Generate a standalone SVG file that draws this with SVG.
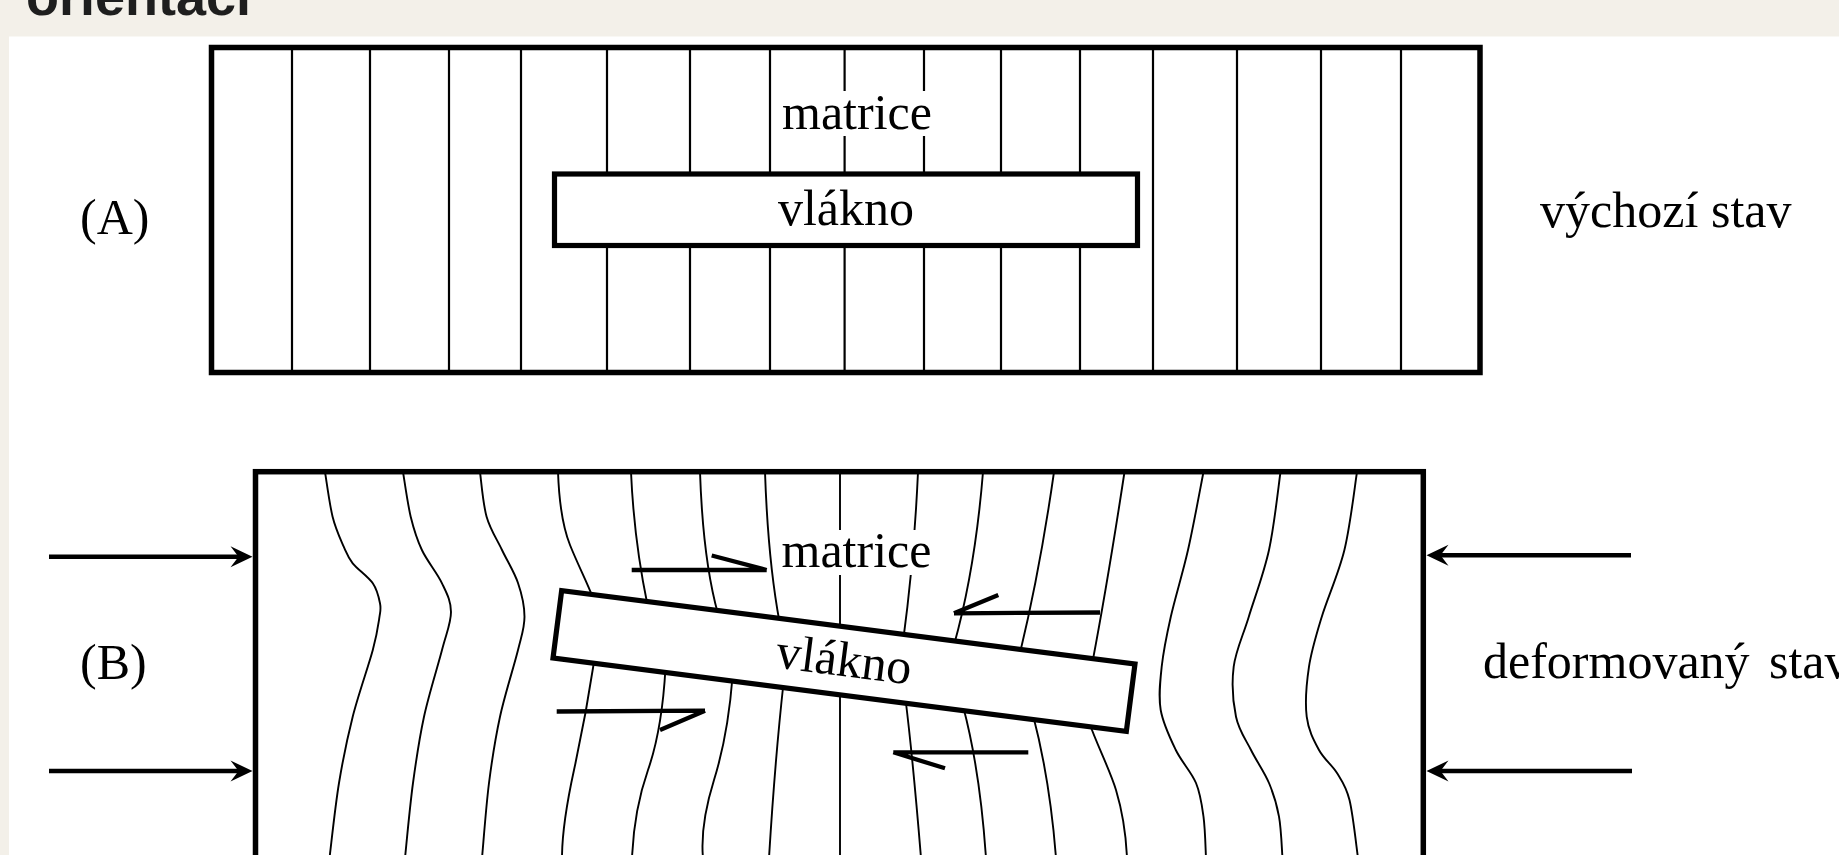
<svg xmlns="http://www.w3.org/2000/svg" width="1839" height="855" viewBox="0 0 1839 855">
<defs>
<style>
.bg{fill:#f3f0e9}
.panel{fill:#ffffff}
.frame{fill:none;stroke:#000;stroke-width:5.5}
.fiber{fill:#fff;stroke:#000;stroke-width:5.2}
.vl{stroke:#000;stroke-width:2.2;fill:none}
.wl{stroke:#000;stroke-width:1.9;fill:none}
.lbl{font-family:"Liberation Serif","Times New Roman",serif;font-size:50px;fill:#000}
.arr{stroke:#000;stroke-width:4.5;fill:none}
.shear{stroke:#000;stroke-width:4.3;fill:none;stroke-linecap:butt}
.title{font-family:"Liberation Sans",Arial,sans-serif;font-weight:bold;font-size:54px;fill:#1e1e1e}
.mask{fill:#fff}
</style>
<path id="head" d="M0,0 L-22,-10.5 L-14,0 L-22,10.5 Z" fill="#000"/>
</defs>

<rect class="bg" x="0" y="0" width="1839" height="855"/>
<text class="title" x="26" y="15">orientaci</text>
<rect class="panel" x="9" y="36.5" width="1830" height="818.5"/>

<g id="stateA">
  <path class="vl" d="M292,48V372 M370,48V372 M449,48V372 M521,48V372 M607,48V372 M690,48V372 M770,48V372 M844.6,48V372 M924,48V372 M1001,48V372 M1080,48V372 M1153,48V372 M1237,48V372 M1321,48V372 M1401,48V372"/>
  <rect class="frame" x="211.5" y="47.5" width="1268.5" height="325"/>
  <g id="fiberA">
    <rect class="fiber" x="554.5" y="174" width="583" height="71.5"/>
    <text class="lbl" x="846" y="225" text-anchor="middle">vlákno</text>
  </g>
  <g id="matrixA">
    <rect class="mask" x="779" y="91" width="158" height="45"/>
    <text class="lbl" x="782" y="129">matrice</text>
  </g>
  <text id="labelA" class="lbl" x="80" y="234">(A)</text>
  <text id="stateA-label" class="lbl" x="1540" y="227">výchozí<tspan x="1711">stav</tspan></text>
</g>

<g id="stateB">
  <g id="gridB">
    <path class="wl" d="M325,472 C326.3,479.5 329.5,504.2 332.6,516.7 C335.7,529.2 340.4,538.9 343.7,546.7 C347.1,554.5 347.9,557.2 352.7,563.3 C357.6,569.4 368.3,576.6 372.8,583.3 C377.4,590 378.9,597.7 380,603.3 C381.1,608.9 380.7,608.9 379.5,616.7 C378.3,624.5 377.3,633.3 372.8,650 C368.3,666.7 358.3,694.5 352.7,716.7 C347.1,738.9 342.9,759.4 339,783 C335.1,806.6 331.1,845.5 329.5,858"/>
    <path class="wl" d="M403,472 C404.3,479.5 407.6,503.7 410.7,516.7 C413.9,529.7 416.7,538.9 421.9,550 C427.1,561.1 437.2,573 442,583.3 C446.9,593.6 451,600.9 451,612 C451,623.1 446.5,632.6 442,650 C437.5,667.4 428.8,694.5 424,716.7 C419.2,738.9 416.2,759.5 413,783 C409.8,806.6 406.3,845.5 405,858"/>
    <path class="wl" d="M480,472 C481.1,479.5 482.9,503.7 486.6,516.7 C490.3,529.7 496.8,539 502,550 C507.2,561 514.3,571.9 518,583 C521.8,594.1 524.5,605.5 524.5,616.7 C524.5,627.9 522.1,633.3 518,650 C513.9,666.7 504.8,694.5 500,716.7 C495.2,738.9 492,759.5 489,783 C486,806.6 483.2,845.5 482,858"/>
    <path class="wl" d="M558,472 C559,500 562,525 570,545 C578,565 587,582 593,598 M594.5,659 Q586,715 574,770 T562,858"/>
    <path class="wl" d="M631,472 Q634,540 647.5,605 M665.5,668 Q662,730 648,770 T632,858"/>
    <path class="wl" d="M700,472 Q703,560 718,614 M732.5,677 Q728,735 714,780 T703,858"/>
    <path class="wl" d="M765,472 Q768,560 779.5,622 M783.5,683 Q775,760 769,858"/>
    <path class="wl" d="M840,472 V858"/>
    <path class="wl" d="M918,472 Q914,560 903.5,638 M905.5,699 Q913,760 921,858"/>
    <path class="wl" d="M983,472 Q975,570 954,645 M963,706 Q980,770 986,858"/>
    <path class="wl" d="M1054,472 Q1040,570 1020,653 M1033,715 Q1050,780 1056,858"/>
    <path class="wl" d="M1124.5,472 Q1108,580 1092.5,662 M1089,722 C1097,745 1110,770 1116,790 C1122,810 1126,835 1127,858"/>
    <path class="wl" d="M1203.5,472 C1200.9,485 1193.5,525.9 1188,550 C1182.5,574.1 1175.2,597.3 1170.8,616.7 C1166.4,636.2 1163.4,651.2 1161.7,666.7 C1160,682.3 1158.4,696.1 1160.7,710 C1163.1,723.9 1169.9,737.8 1175.8,750 C1181.7,762.2 1191.4,771.9 1196,783 C1200.6,794.1 1201.8,804.2 1203.5,816.7 C1205.2,829.2 1205.6,851.1 1206,858"/>
    <path class="wl" d="M1280.5,472 C1278.6,485 1274.3,525.9 1269,550 C1263.7,574.1 1254.7,597.3 1248.8,616.7 C1242.9,636.2 1235.8,650 1233.7,666.7 C1231.6,683.4 1233.1,702.8 1236,716.7 C1238.9,730.6 1245.5,739 1251,750 C1256.5,761.1 1264.3,771.9 1269,783 C1273.7,794.1 1276.8,804.2 1279,816.7 C1281.3,829.2 1281.9,851.1 1282.5,858"/>
    <path class="wl" d="M1357,472 C1354.9,485 1350.3,525.9 1344.4,550 C1338.5,574.1 1327.7,597.3 1321.8,616.7 C1315.9,636.2 1311.5,650 1309,666.7 C1306.5,683.4 1305,702.8 1306.7,716.7 C1308.4,730.6 1314,740.6 1319,750 C1324,759.4 1331.9,764.7 1337,773 C1342.1,781.3 1346,785.8 1349.5,800 C1353,814.2 1356.6,848.3 1358,858"/>
  </g>
  <rect class="frame" x="255.5" y="471.7" width="1167.8" height="500" stroke-width="6"/>
  <g id="fiberB">
    <rect class="fiber" x="-289" y="-34" width="578" height="68" transform="translate(844,661) rotate(7.3)"/>
    <text class="lbl" x="0" y="15" text-anchor="middle" transform="translate(844,661) rotate(7.3)">vlákno</text>
  </g>
  <g id="matrixB">
    <rect class="mask" x="779" y="530" width="156" height="45"/>
    <text class="lbl" x="781.5" y="566.5">matrice</text>
  </g>
  <g id="shear">
    <path class="shear" d="M631.7,570 H766.7 M766.7,570 L711.7,555.5"/>
    <path class="shear" d="M1100,612.5 L954,613.3 M954,613.3 L998.3,595"/>
    <path class="shear" d="M556.7,711.5 L705,710.7 M705,710.7 L660,730"/>
    <path class="shear" d="M1028.3,752.3 L893.3,752.3 M893.3,752.3 L945,768.3"/>
  </g>
  <text id="labelB" class="lbl" x="80" y="679">(B)</text>
  <text id="stateB-label" class="lbl" x="1483" y="678">deformovaný<tspan x="1769">stav</tspan></text>
</g>

<g id="connectors">
  <path class="arr" d="M49,556.7 H240 M49,771 H240 M1631,555.3 H1439 M1632,771 H1439"/>
  <use href="#head" transform="translate(252.5,556.7)"/>
  <use href="#head" transform="translate(252.5,771)"/>
  <use href="#head" transform="translate(1426.5,555.3) scale(-1,1)"/>
  <use href="#head" transform="translate(1426.5,771) scale(-1,1)"/>
</g>
</svg>
